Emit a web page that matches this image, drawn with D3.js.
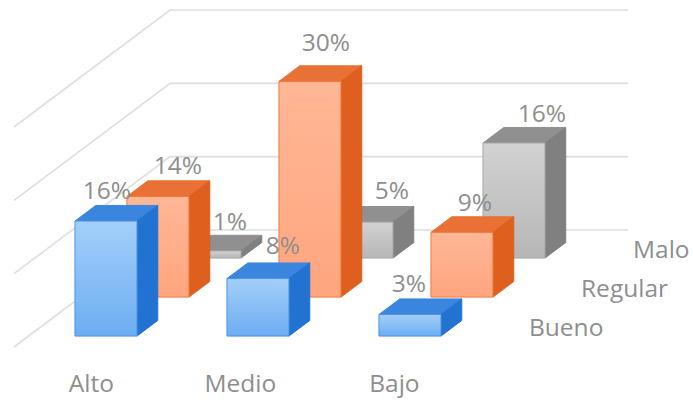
<!DOCTYPE html>
<html>
<head>
<meta charset="utf-8">
<script src="https://cdn.jsdelivr.net/npm/d3@7"></script>
<style>
  html, body { margin: 0; padding: 0; background: #fff; }
  svg { display: block; }
  text { font-family: "Open Sans", sans-serif; fill: #8e8e8e; }
</style>
</head>
<body>
<div id="chart"></div>
<script>
// Category and series data (percent)
const categories = ["Alto", "Medio", "Bajo"];
const rows = ["Bueno", "Regular", "Malo"];
const bueno = [16, 8, 3];
const regular = [14, 30, 9];
const malo = [1, 5, 16];
const gridValues = [0, 10.2, 20.4, 30.6];
const seriesValues = [bueno, regular, malo];

const width = 693, height = 400;
const svg = d3.select("#chart").append("svg").attr("width", width).attr("height", height);

// Oblique projection: category across, row into the depth, value upwards
const x = d3.scaleBand().domain(categories).range([60.4, 426.4]).paddingInner(0.592).paddingOuter(0);
const depthX = d3.scaleLinear().domain([0, 3]).range([0, 156]);
const depthY = d3.scaleLinear().domain([0, 3]).range([347, 230]);
const h = d3.scaleLinear().domain([0, 30.6]).range([0, 220]);
const rowDepth = d3.scaleLinear().domain([0, 2]).range([0.28, 2.28]);
const barDepth = 0.4;
const pt = (px, depth, value) => [px + depthX(depth), depthY(depth) - h(value)];

// Shaded faces for each series
const palette = [
  { id: "blue", a: "#a4cffa", b: "#6cadf2", edge: "#4d94e4", top: "#3a86de", side: "#2272d2" },
  { id: "orange", a: "#ffb795", b: "#ffa57f", edge: "#f2793a", top: "#ea7135", side: "#de5f1e" },
  { id: "gray", a: "#d2d2d2", b: "#b6b6b6", edge: "#a9a9a9", top: "#909090", side: "#808080" }
];
const defs = svg.append("defs");
palette.forEach(p => {
  const g = defs.append("linearGradient").attr("id", "front-" + p.id)
    .attr("x1", 0).attr("y1", 0).attr("x2", 0).attr("y2", 1);
  g.append("stop").attr("offset", "0%").attr("stop-color", p.a);
  g.append("stop").attr("offset", "100%").attr("stop-color", p.b);
});

// Gridlines: run along the floor side, then across the back wall
const line = d3.line();
const grid = svg.append("g").attr("fill", "none").attr("stroke", "#dedede").attr("stroke-width", 1.6);
gridValues.forEach(v => {
  grid.append("path").attr("d", line([
    [14, depthY(0) - h(v)],
    [14 + depthX(3), depthY(3) - h(v)],
    [628, depthY(3) - h(v)]
  ]));
});

// Bars, back row first so nearer rows overlap them
const poly = (g, points, fill, stroke) => g.append("path")
  .attr("d", line(points) + "Z").attr("fill", fill).attr("stroke", stroke)
  .attr("stroke-width", 1).attr("stroke-linejoin", "round");

d3.range(rows.length).reverse().forEach(r => {
  const p = palette[r];
  const g = svg.append("g").attr("class", "row-" + rows[r]);
  categories.forEach((c, i) => {
    const v = seriesValues[r][i];
    const x0 = x(c), x1 = x0 + x.bandwidth();
    const d0 = rowDepth(r), d1 = d0 + barDepth;
    poly(g, [pt(x0, d0, v), pt(x1, d0, v), pt(x1, d1, v), pt(x0, d1, v)], p.top, p.top);
    poly(g, [pt(x1, d0, 0), pt(x1, d0, v), pt(x1, d1, v), pt(x1, d1, 0)], p.side, p.side);
    poly(g, [pt(x0, d0, 0), pt(x1, d0, 0), pt(x1, d0, v), pt(x0, d0, v)], `url(#front-${p.id})`, p.edge);
  });
});

// Value labels, nudged off the bar tops so they stay readable
const labelNudge = [
  [[1, -6], [25, -9], [-1, -7]],
  [[20, -7], [16, -15], [13, -6]],
  [[20, -5], [30, -8], [28, -5]]
];
const labels = svg.append("g").attr("font-size", 24.5).attr("text-anchor", "middle");
rows.forEach((_, r) => categories.forEach((c, i) => {
  const v = seriesValues[r][i];
  const d1 = rowDepth(r) + barDepth;
  const base = pt(x(c) + x.bandwidth() / 2, d1, v);
  labels.append("text")
    .attr("x", base[0] - depthX(barDepth) + labelNudge[r][i][0])
    .attr("y", base[1] + labelNudge[r][i][1])
    .text(v + "%");
}));

// Category names under the front edge
const categoryNudge = [0, -3, -1];
svg.append("g").attr("font-size", 24.5).attr("text-anchor", "middle")
  .selectAll("text").data(categories).join("text")
  .attr("x", (c, i) => x(c) + x.bandwidth() / 2 + categoryNudge[i])
  .attr("y", 392)
  .text(c => c);

// Row names to the right of the floor
svg.append("g").attr("font-size", 24.5)
  .selectAll("text").data(rows).join("text")
  .attr("x", (d, r) => 529 + depthX(r))
  .attr("y", (d, r) => 336 - (depthY(0) - depthY(r)))
  .text(d => d);
</script>
</body>
</html>
